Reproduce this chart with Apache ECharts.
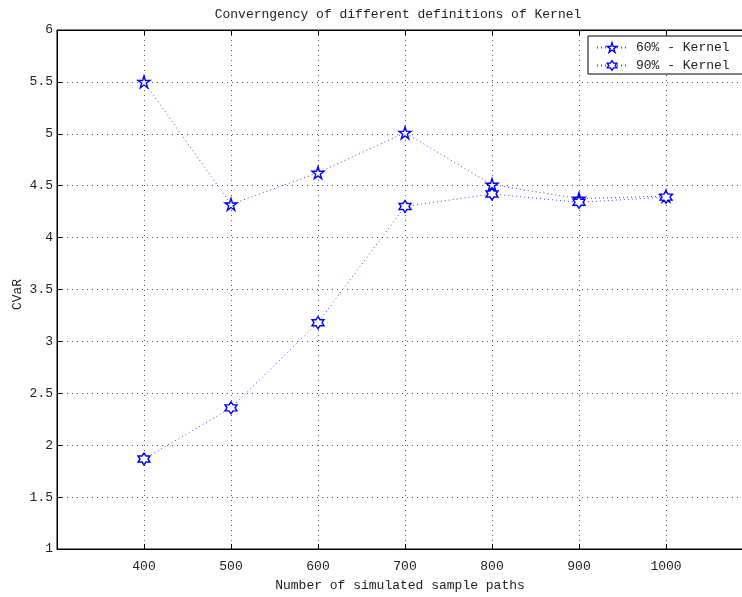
<!DOCTYPE html>
<html>
<head>
<meta charset="utf-8">
<script src="https://cdn.jsdelivr.net/npm/echarts@6/dist/echarts.min.js"></script>
<style>
html, body { margin: 0; padding: 0; background: #fff; overflow: hidden; }
#main { width: 742px; height: 597px; }
</style>
</head>
<body>
<div id="main"></div>
<script>
// sample sizes and CVaR estimates
var paths = [400, 500, 600, 700, 800, 900, 1000];
var kernel60 = [5.5, 4.32, 4.625, 5.01, 4.51, 4.375, 4.4];
var kernel90 = [1.867, 2.36, 3.18, 4.3, 4.42, 4.34, 4.39];
var seriesNames = ['60% - Kernel', '90% - Kernel'];

/**
 * star shaped markers (outline), built as svg paths
 * **/
function starPath(points, inner) {
	var d = '';
	for (var i = 0; i < points * 2; i++) {
		var r = i % 2 === 0 ? 1 : inner;
		var a = -Math.PI / 2 + i * Math.PI / points;
		d += (i === 0 ? 'M' : 'L') + (r * Math.cos(a) * 10 + 10).toFixed(2) + ' ' + (r * Math.sin(a) * 10 + 10).toFixed(2);
	}
	return 'path://' + d + 'Z';
}
var pentagram = starPath(5, 0.382);
var hexagram = starPath(6, 0.577);

function pairs(xs, ys) {
	return xs.map(function(x, i) { return [x, ys[i]]; });
}

var font = 'Liberation Mono';
var fs = 13;
var myChart = echarts.init(document.getElementById('main'));
var option = {
	animation: false,
	title: {
		text: 'Converngency of different definitions of Kernel',
		left: 393,
		textAlign: 'center',
		top: 3,
		textStyle: {
			fontFamily: font,
			fontSize: fs,
			fontWeight: 'normal',
			color: '#222'
		}
	},
	legend: {
		orient: 'vertical',
		left: 588,
		top: 36,
		padding: [5, 40, 2, 8],
		itemGap: 5,
		itemWidth: 30,
		itemHeight: 12,
		borderColor: '#000',
		borderWidth: 1,
		borderRadius: 0,
		backgroundColor: '#fff',
		itemStyle: { color: '#fff', borderColor: '#0000ff', borderWidth: 1.4 },
		textStyle: {
			fontFamily: font,
			fontSize: fs,
			color: '#222',
			padding: [0, 0, 0, 4]
		},
		data: seriesNames
	},
	grid: {
		left: 57,
		width: 696,
		top: 30,
		bottom: 48,
		outerBoundsMode: 'none',
		show: true,
		borderColor: '#000',
		borderWidth: 1
	},
	xAxis: [{
		type: 'value',
		min: 300,
		max: 1100,
		interval: 100,
		name: 'Number of simulated sample paths',
		nameLocation: 'middle',
		nameGap: 30,
		nameTextStyle: { fontFamily: font, fontSize: fs, color: '#222', padding: [0, 10, 0, 0] },
		axisLine: { lineStyle: { color: '#000', width: 1 } },
		axisTick: { inside: true, length: 5, lineStyle: { color: '#000' } },
		axisLabel: {
			fontFamily: font,
			fontSize: fs,
			color: '#222',
			margin: 11,
			formatter: function(v) { return (v === 300 || v === 1100) ? '' : v; }
		},
		splitLine: { show: true, lineStyle: { color: '#555', type: [1, 4], width: 1 } }
	}, {
		type: 'value',
		position: 'top',
		min: 300,
		max: 1100,
		interval: 100,
		axisLine: { lineStyle: { color: '#000' } },
		axisTick: { inside: true, length: 5, lineStyle: { color: '#000' } },
		axisLabel: { show: false },
		splitLine: { show: false }
	}],
	yAxis: [{
		type: 'value',
		min: 1,
		max: 6,
		interval: 0.5,
		name: 'CVaR',
		nameLocation: 'middle',
		nameGap: 33,
		nameMoveOverlap: false,
		nameTextStyle: { fontFamily: font, fontSize: fs, color: '#222', padding: [0, 10, 0, 0] },
		axisLine: { show: true, lineStyle: { color: '#000', width: 1 } },
		axisTick: { show: true, inside: true, length: 5, lineStyle: { color: '#000' } },
		axisLabel: { fontFamily: font, fontSize: fs, color: '#222', margin: 4 },
		splitLine: { show: true, lineStyle: { color: '#555', type: [1, 4], width: 1 } }
	}],
	series: [{
		name: seriesNames[0],
		type: 'line',
		data: pairs(paths, kernel60),
		symbol: pentagram,
		symbolSize: 12,
		lineStyle: { color: '#4040ff', width: 1, type: [1, 3] },
		itemStyle: { color: '#fff', borderColor: '#0000ff', borderWidth: 1.4 },
		z: 3
	}, {
		name: seriesNames[1],
		type: 'line',
		data: pairs(paths, kernel90),
		symbol: hexagram,
		symbolSize: 12,
		lineStyle: { color: '#4040ff', width: 1, type: [1, 3] },
		itemStyle: { color: '#fff', borderColor: '#0000ff', borderWidth: 1.4 },
		z: 3
	}]
};
myChart.setOption(option);
</script>
</body>
</html>
